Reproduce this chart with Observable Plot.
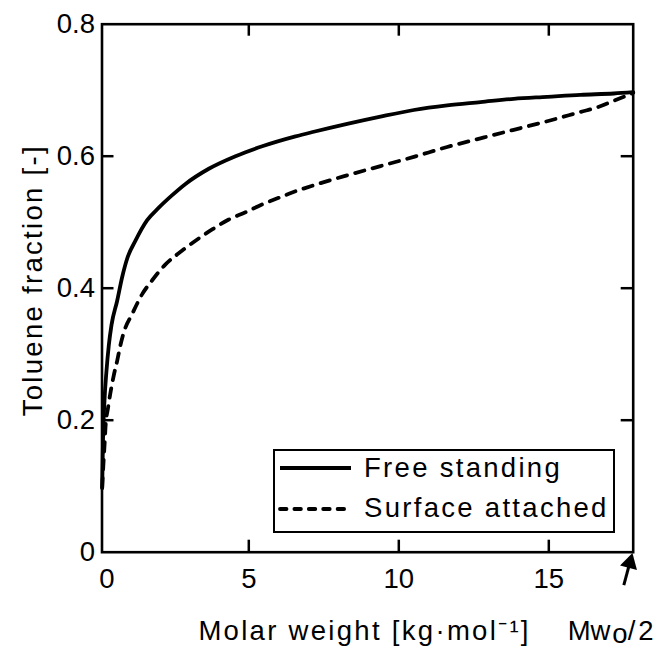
<!DOCTYPE html>
<html>
<head>
<meta charset="utf-8">
<script src="https://cdn.jsdelivr.net/npm/d3@7"></script>
<script src="https://cdn.jsdelivr.net/npm/@observablehq/plot@0.6"></script>
<style>
html, body { margin: 0; padding: 0; background: #fff; overflow: hidden; }
#wrap { position: relative; width: 665px; height: 648px; font-family: "Liberation Sans", Arial, sans-serif; }
#legend { position: absolute; left: 273px; top: 449px; width: 342px; height: 84px; box-sizing: border-box;
  border: 2px solid #000; background: #fff; }
#legend svg { position: absolute; left: 0; top: 0; overflow: visible; }
#legend text { font-family: "Liberation Sans", Arial, sans-serif; font-size: 27.5px; letter-spacing: 2.3px; fill: #000; }
</style>
</head>
<body>
<div id="wrap"></div>
<script>
// ---- data ----
const seriesNames = ["Free standing", "Surface attached"];

const freeX = [0.113, 0.14, 0.19, 0.257, 0.333, 0.423, 0.613, 0.78, 0.947, 1.223, 1.613, 2.0, 2.447, 2.89,
  3.667, 4.557, 5.447, 6.557, 7.167, 8.28, 9.39, 10.5, 11.613, 12.723, 13.833, 14.947, 16.057, 17.167, 17.813];
const freeY = [0.097, 0.169, 0.23, 0.275, 0.313, 0.344, 0.381, 0.417, 0.445, 0.472, 0.503, 0.522, 0.541, 0.558,
  0.581, 0.600, 0.615, 0.630, 0.637, 0.649, 0.660, 0.670, 0.677, 0.682, 0.687, 0.690, 0.693, 0.695, 0.697];

const surfX = [0.113, 0.167, 0.2, 0.223, 0.313, 0.39, 0.5, 0.613, 0.723, 0.833, 1.113, 1.447, 1.78, 2.223,
  2.78, 3.223, 3.78, 4.333, 4.89, 5.447, 6.0, 6.447, 7.167, 8.28, 9.39, 10.5, 11.613, 12.723, 13.833, 14.947,
  16.057, 16.613, 17.167, 17.813];
const surfY = [0.098, 0.144, 0.169, 0.189, 0.22, 0.242, 0.268, 0.29, 0.314, 0.333, 0.361, 0.391, 0.412, 0.436,
  0.457, 0.472, 0.489, 0.504, 0.515, 0.527, 0.537, 0.545, 0.556, 0.571, 0.585, 0.599, 0.614, 0.627, 0.640, 0.653,
  0.667, 0.674, 0.684, 0.696];

const xTickLabels = [0, 5, 10, 15];
const yTickLabels = [0, 0.2, 0.4, 0.6, 0.8];
const xDomain = [0.107, 17.813];
const yDomain = [0, 0.8];

const xLabel = "Molar weight [kg\u00B7mol\u207B\u00B9]";
const yLabel = "Toluene fraction [-]";
const endLabelParts = ["Mw", "o", "/2"];
// annotation arrow (tail -> head) pointing at Mw0/2 on the x axis
const arrowX = [17.5, 17.7];
const arrowY = [-0.05, -0.016];

// ---- build ----
const free = freeX.map((x, i) => ({x, y: freeY[i]}));
const surf = surfX.map((x, i) => ({x, y: surfY[i]}));

const W = 665, H = 648;
const mL = 101.5, mR = 32.3, mT = 23.7, mB = 96.3;
const plotW = W - mL - mR, plotH = H - mT - mB;
const tickLen = 12, fs = 27.5;

const chart = Plot.plot({
  width: W, height: H,
  marginLeft: mL, marginRight: mR, marginTop: mT, marginBottom: mB,
  style: {fontFamily: '"Liberation Sans", Arial, sans-serif', fontSize: fs + "px", color: "#000", background: "#fff"},
  x: {domain: xDomain, label: null},
  y: {domain: yDomain, label: null},
  marks: [
    Plot.line(surf, {x: "x", y: "y", stroke: "#000", strokeWidth: 3.8, strokeDasharray: "9.5,8.5", strokeLinecap: "round", curve: "monotone-x"}),
    Plot.line(free, {x: "x", y: "y", stroke: "#000", strokeWidth: 3.8, curve: "monotone-x"}),
    // inward ticks on all four sides
    Plot.tickX(xTickLabels.slice(1), {x: d => d, insetTop: plotH - tickLen, stroke: "#000", strokeWidth: 2.5}),
    Plot.tickX(xTickLabels.slice(1), {x: d => d, insetBottom: plotH - tickLen, stroke: "#000", strokeWidth: 2.5}),
    Plot.tickY(yTickLabels.slice(1, -1), {y: d => d, insetRight: plotW - tickLen, stroke: "#000", strokeWidth: 2.5}),
    Plot.tickY(yTickLabels.slice(1, -1), {y: d => d, insetLeft: plotW - tickLen, stroke: "#000", strokeWidth: 2.5}),
    Plot.frame({stroke: "#000", strokeWidth: 2.6}),
    Plot.axisX(xTickLabels.slice(1), {tickSize: 0, tickPadding: 16, fontSize: fs, label: null}),
    Plot.axisX(xTickLabels.slice(0, 1), {tickSize: 0, tickPadding: 16, dx: 8, fontSize: fs, label: null}),
    Plot.axisY(yTickLabels, {tickSize: 0, tickPadding: 7, fontSize: fs, label: null, tickFormat: d => d === 0 ? "0" : d3.format(".1f")(d)}),
    // axis titles
    Plot.text([xLabel], {text: d => d, frameAnchor: "bottom", textAnchor: "middle", lineAnchor: "middle", dy: 78.5, dx: -3, fontSize: fs}),
    Plot.text([yLabel], {text: d => d, frameAnchor: "left", textAnchor: "middle", lineAnchor: "middle", rotate: -90, dx: -69, dy: -8, fontSize: fs}),
    // end label Mw_o/2
    Plot.text([endLabelParts[0]], {text: d => d, frameAnchor: "bottom-right", textAnchor: "start", lineAnchor: "middle", dx: -65.5, dy: 78.5, fontSize: fs}),
    Plot.text([endLabelParts[1]], {text: d => d, frameAnchor: "bottom-right", textAnchor: "start", lineAnchor: "middle", dx: -21, dy: 81.5, fontSize: fs}),
    Plot.text([endLabelParts[2]], {text: d => d, frameAnchor: "bottom-right", textAnchor: "start", lineAnchor: "middle", dx: -5.5, dy: 78.5, fontSize: fs}),
    // arrow
    Plot.link([0], {x1: () => arrowX[0], y1: () => arrowY[0], x2: () => arrowX[1], y2: () => arrowY[1], stroke: "#000", strokeWidth: 3, clip: false}),
    Plot.dot([0], {x: () => arrowX[1], y: () => arrowY[1], symbol: "triangle", r: 6.5, fill: "#000", stroke: "none", rotate: 15})
  ]
});

// letter spacing for word labels (matches the wide lettering of the reference)
const spaced = new Set([xLabel, yLabel]);
d3.select(chart).selectAll("text").filter(function() { return spaced.has(this.textContent); })
  .attr("letter-spacing", "2.3px");
d3.select(chart).selectAll("text").filter(function() { return this.textContent === endLabelParts[2]; })
  .attr("letter-spacing", "3px");

const wrap = document.getElementById("wrap");
wrap.append(chart);

// legend (inside the axes box, bottom-right)
const legend = document.createElement("div");
legend.id = "legend";
const ns = "http://www.w3.org/2000/svg";
const lsvg = document.createElementNS(ns, "svg");
lsvg.setAttribute("width", 338); lsvg.setAttribute("height", 80);
const rows = [
  {name: seriesNames[0], dash: null, ly: 17, ty: 26},
  {name: seriesNames[1], dash: "6.5,7.9", ly: 58, ty: 66}
];
rows.forEach(r => {
  const ln = document.createElementNS(ns, "line");
  ln.setAttribute("x1", 5); ln.setAttribute("x2", 76);
  ln.setAttribute("y1", r.ly); ln.setAttribute("y2", r.ly);
  ln.setAttribute("stroke", "#000"); ln.setAttribute("stroke-width", 3.8);
  if (r.dash) { ln.setAttribute("stroke-dasharray", r.dash); ln.setAttribute("stroke-linecap", "round"); }
  lsvg.append(ln);
  const tx = document.createElementNS(ns, "text");
  tx.setAttribute("x", 89); tx.setAttribute("y", r.ty);
  tx.textContent = r.name;
  lsvg.append(tx);
});
legend.append(lsvg);
wrap.append(legend);
</script>
</body>
</html>
